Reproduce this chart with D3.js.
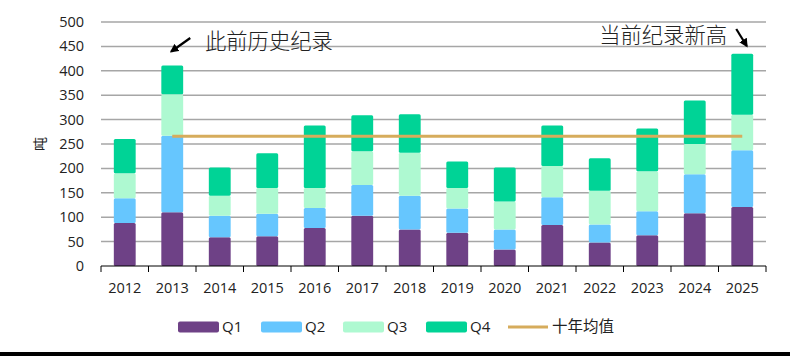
<!DOCTYPE html>
<html>
<head>
<meta charset="utf-8">
<script src="https://cdn.jsdelivr.net/npm/d3@7"></script>
<style>
  html, body { margin: 0; padding: 0; background: #fff; }
  svg { display: block; }
  text { font-family: "Open Sans", "Noto Sans CJK SC", sans-serif; fill: #222; }
  text.cjk { font-family: "Noto Sans CJK SC", sans-serif; }
</style>
</head>
<body>
<svg id="chart" width="790" height="356"></svg>
<script>
const years = ["2012","2013","2014","2015","2016","2017","2018","2019","2020","2021","2022","2023","2024","2025"];
const seriesNames = ["Q1","Q2","Q3","Q4"];
// quarterly values (tonnes)
const q1 = [88, 110, 59, 61, 78, 103, 75, 68, 34, 84, 48, 63, 108, 121];
const q2 = [51, 157, 44, 46, 41, 63, 69, 50, 41, 57, 37, 49, 80, 116];
const q3 = [51, 85, 41, 53, 41, 69, 88, 42, 57, 64, 69, 82, 62, 73];
const q4 = [70, 59, 58, 71, 128, 74, 79, 54, 70, 83, 67, 88, 89, 125];
const avgYears = ["2013","2014","2015","2016","2017","2018","2019","2020","2021","2022","2023","2024","2025"];
const avgValues = [266, 266, 266, 266, 266, 266, 266, 266, 266, 266, 266, 266, 266];
const yTicks = [0, 50, 100, 150, 200, 250, 300, 350, 400, 450, 500];
const avgName = "十年均值";
const yTitle = "吨";
const notes = [
  { year: "2013", text: "此前历史纪录" },
  { year: "2025", text: "当前纪录新高" }
];

const colors = { Q1: "#6E4186", Q2: "#66C6FE", Q3: "#AEF9D1", Q4: "#00D396" };
const avgColor = "#D6AC5C";

const svg = d3.select("#chart");
const mLeft = 101, mRight = 766, mTop = 22, mBottom = 266;

const x = d3.scaleBand().domain(years).range([mLeft, mRight]).paddingInner(0.54).paddingOuter(0.27);
const xb = d3.scaleBand().domain(years).range([mLeft, mRight]);
const y = d3.scaleLinear().domain([0, 500]).range([mBottom, mTop]);

// gridlines
svg.append("g").selectAll("line").data(yTicks.filter(d => d > 0)).join("line")
  .attr("x1", mLeft).attr("x2", mRight)
  .attr("y1", d => y(d)).attr("y2", d => y(d))
  .attr("stroke", "#A6A6A6").attr("stroke-width", 1.5);

// y labels
svg.append("g").selectAll("text").data(yTicks).join("text")
  .attr("x", 84).attr("y", d => y(d)).attr("dy", "0.35em")
  .attr("text-anchor", "end").attr("font-size", 14.5)
  .text(d => d);

svg.append("text").attr("class", "cjk")
  .attr("transform", `translate(40,${y(250)}) rotate(-90)`)
  .attr("text-anchor", "middle").attr("dy", "0.35em").attr("font-size", 14)
  .text(yTitle);

// stacked bars
const table = years.map((yr, i) => ({ year: yr, Q1: q1[i], Q2: q2[i], Q3: q3[i], Q4: q4[i] }));
const stacked = d3.stack().keys(seriesNames)(table);
const bars = svg.append("g");
stacked.forEach(layer => {
  bars.append("g").selectAll("rect").data(layer).join("rect")
    .attr("x", d => x(d.data.year))
    .attr("width", x.bandwidth())
    .attr("y", d => y(d[1]))
    .attr("height", d => y(d[0]) - y(d[1]))
    .attr("rx", 1.5)
    .attr("fill", colors[layer.key]);
});

// x axis
const xAxis = svg.append("g").attr("transform", `translate(0,${mBottom})`);
xAxis.append("line").attr("x1", mLeft).attr("x2", mRight).attr("stroke", "#000").attr("stroke-width", 1);
const bounds = years.map(d => xb(d)).concat([mRight]);
xAxis.selectAll("line.tick").data(bounds).join("line").attr("class", "tick")
  .attr("x1", d => d).attr("x2", d => d).attr("y1", 0).attr("y2", 6)
  .attr("stroke", "#000").attr("stroke-width", 1);
xAxis.selectAll("text").data(years).join("text")
  .attr("x", d => xb(d) + xb.bandwidth() / 2).attr("y", 22)
  .attr("dy", "0.35em").attr("text-anchor", "middle").attr("font-size", 14.5)
  .text(d => d);

// average line
const line = d3.line().x(d => xb(d.year) + xb.bandwidth() / 2).y(d => y(d.v));
svg.append("path")
  .datum(avgYears.map((yr, i) => ({ year: yr, v: avgValues[i] })))
  .attr("d", line).attr("fill", "none").attr("stroke", avgColor).attr("stroke-width", 3);

// annotations
const defs = svg.append("defs");
defs.append("marker").attr("id", "arr").attr("viewBox", "0 0 10 10")
  .attr("refX", 8).attr("refY", 5).attr("markerWidth", 4).attr("markerHeight", 4)
  .attr("orient", "auto")
  .append("path").attr("d", "M0,0 L10,5 L0,10 Z").attr("fill", "#000");

const c2013 = xb("2013") + xb.bandwidth() / 2;
svg.append("line").attr("x1", c2013 + 18).attr("y1", 38).attr("x2", c2013 - 1).attr("y2", 51.5)
  .attr("stroke", "#000").attr("stroke-width", 2.2).attr("marker-end", "url(#arr)");
svg.append("text").attr("class", "cjk").attr("x", 205).attr("y", 42).attr("dy", "0.35em")
  .attr("font-size", 21.3).attr("font-weight", 300).text(notes[0].text);

const c2025 = xb("2025") + xb.bandwidth() / 2;
svg.append("line").attr("x1", c2025 - 6).attr("y1", 29).attr("x2", c2025 + 4.5).attr("y2", 46)
  .attr("stroke", "#000").attr("stroke-width", 2.2).attr("marker-end", "url(#arr)");
svg.append("text").attr("class", "cjk").attr("x", 727).attr("y", 36).attr("dy", "0.35em")
  .attr("text-anchor", "end")
  .attr("font-size", 21.3).attr("font-weight", 300).text(notes[1].text);

// legend
const legendItems = [
  { name: "Q1", type: "rect", x: 178 },
  { name: "Q2", type: "rect", x: 261 },
  { name: "Q3", type: "rect", x: 343 },
  { name: "Q4", type: "rect", x: 426 },
  { name: avgName, type: "line", x: 508 }
];
const lg = svg.append("g");
legendItems.forEach(it => {
  if (it.type === "rect") {
    lg.append("rect").attr("x", it.x).attr("y", 321.5).attr("width", 41).attr("height", 11)
      .attr("rx", 2).attr("fill", colors[it.name]);
  } else {
    lg.append("line").attr("x1", it.x).attr("x2", it.x + 40).attr("y1", 327).attr("y2", 327)
      .attr("stroke", avgColor).attr("stroke-width", 3);
  }
  lg.append("text").attr("class", it.type === "line" ? "cjk" : null)
    .attr("x", it.x + 44).attr("y", 327).attr("dy", "0.35em")
    .attr("font-size", it.type === "line" ? 15.5 : 15).text(it.name);
});

// bottom border
svg.append("rect").attr("x", 0).attr("y", 352).attr("width", 790).attr("height", 4).attr("fill", "#000");
</script>
</body>
</html>
